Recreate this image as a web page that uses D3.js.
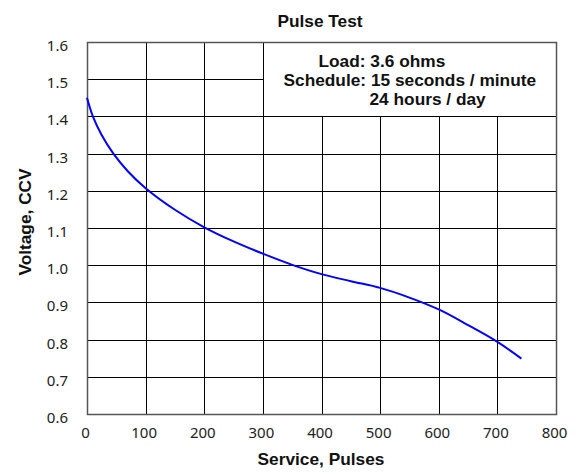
<!DOCTYPE html>
<html>
<head>
<meta charset="utf-8">
<script src="https://cdn.jsdelivr.net/npm/d3@7"></script>
<style>
  html, body { margin: 0; padding: 0; background: #fff; }
  svg { display: block; }
  .tick-label { font-family: "Noto Sans", sans-serif; font-size: 15px; fill: #222; }
  .bold { font-family: "Liberation Sans", Arial, sans-serif; font-weight: bold; font-size: 17.3px; fill: #111; }
</style>
</head>
<body>
<div id="chart"></div>
<script>
// service (pulses) and closed-circuit voltage
const pulses  = [0, 10, 25, 45, 70, 100, 150, 200, 250, 300, 350, 400, 450, 500, 550, 600, 650, 700, 741];
const voltage = [1.45, 1.40, 1.35, 1.30, 1.252, 1.207, 1.149, 1.102, 1.064, 1.031, 1.001, 0.976, 0.957, 0.939, 0.913, 0.881, 0.839, 0.794, 0.749];

const xTicks = [0, 100, 200, 300, 400, 500, 600, 700, 800];
const yTicks = [0.6, 0.7, 0.8, 0.9, 1.0, 1.1, 1.2, 1.3, 1.4, 1.5, 1.6];

const title = 'Pulse Test';
const xLabel = 'Service, Pulses';
const yLabel = 'Voltage, CCV';
const noteLines = ['Load: 3.6 ohms', 'Schedule: 15 seconds / minute', '24 hours / day'];

const width = 583, height = 472;
const margin = { top: 42, right: 27, bottom: 58, left: 87 };

const svg = d3.select('#chart').append('svg')
    .attr('width', width)
    .attr('height', height);

const x = d3.scaleLinear()
    .domain([0, 800])
    .range([margin.left, width - margin.right]);

const y = d3.scaleLinear()
    .domain([0.6, 1.6])
    .range([height - margin.bottom, margin.top]);

const px = v => Math.round(v) + 0.5;

// grid
const grid = svg.append('g');
grid.selectAll('line.v')
    .data(xTicks)
    .enter().append('line')
    .attr('x1', d => px(x(d))).attr('x2', d => px(x(d)))
    .attr('y1', y(1.6)).attr('y2', y(0.6))
    .attr('stroke', '#000').attr('stroke-width', 1);
grid.selectAll('line.h')
    .data(yTicks)
    .enter().append('line')
    .attr('x1', x(0)).attr('x2', x(800))
    .attr('y1', d => px(y(d))).attr('y2', d => px(y(d)))
    .attr('stroke', '#000').attr('stroke-width', 1);

// note box covering the upper right of the grid
svg.append('rect')
    .attr('x', px(x(300)))
    .attr('y', px(y(1.6)))
    .attr('width', Math.round(x(800)) - Math.round(x(300)))
    .attr('height', Math.round(y(1.4)) - Math.round(y(1.6)))
    .attr('fill', '#fff')
    .attr('stroke', '#000');

// plot border
svg.append('rect')
    .attr('x', px(x(0)))
    .attr('y', px(y(1.6)))
    .attr('width', Math.round(x(800)) - Math.round(x(0)))
    .attr('height', Math.round(y(0.6)) - Math.round(y(1.6)))
    .attr('fill', 'none')
    .attr('stroke', '#555')
    .attr('stroke-width', 1.5);

// axes: labels only, grid drawn above
const xAxis = svg.append('g')
    .attr('transform', `translate(0,${y(0.6)})`)
    .call(d3.axisBottom(x).tickValues(xTicks).tickSize(0).tickPadding(0).tickFormat(d3.format('d')));
xAxis.select('.domain').remove();
xAxis.selectAll('text')
    .attr('class', 'tick-label')
    .attr('dx', -2)
    .attr('dy', null)
    .attr('y', 24);

const yAxis = svg.append('g')
    .attr('transform', `translate(${x(0)},0)`)
    .call(d3.axisLeft(y).tickValues(yTicks).tickSize(0).tickPadding(19).tickFormat(d3.format('.1f')));
yAxis.select('.domain').remove();
yAxis.selectAll('text')
    .attr('class', 'tick-label')
    .attr('dy', 8.5);
yAxis.attr('font-family', null).attr('font-size', null);
xAxis.attr('font-family', null).attr('font-size', null);

// curve
const line = d3.line()
    .x((d, i) => x(pulses[i]))
    .y(d => y(d))
    .curve(d3.curveCatmullRom.alpha(0.5));

svg.append('path')
    .datum(voltage)
    .attr('d', line)
    .attr('fill', 'none')
    .attr('stroke', '#0000ff')
    .attr('stroke-width', 2);

// note text
const noteX = [318.5, 283.5, 369.5];
const noteY = [66.5, 85.5, 104.5];
svg.selectAll('text.note')
    .data(noteLines)
    .enter().append('text')
    .attr('class', 'bold note')
    .attr('x', (d, i) => noteX[i])
    .attr('y', (d, i) => noteY[i])
    .text(d => d);

// titles
svg.append('text')
    .attr('class', 'bold')
    .attr('x', 320)
    .attr('y', 26.5)
    .attr('text-anchor', 'middle')
    .text(title);

svg.append('text')
    .attr('class', 'bold')
    .attr('x', 321)
    .attr('y', 464.5)
    .attr('text-anchor', 'middle')
    .text(xLabel);

svg.append('text')
    .attr('class', 'bold')
    .attr('transform', 'translate(30.5,222) rotate(-90)')
    .attr('text-anchor', 'middle')
    .text(yLabel);
</script>
</body>
</html>
